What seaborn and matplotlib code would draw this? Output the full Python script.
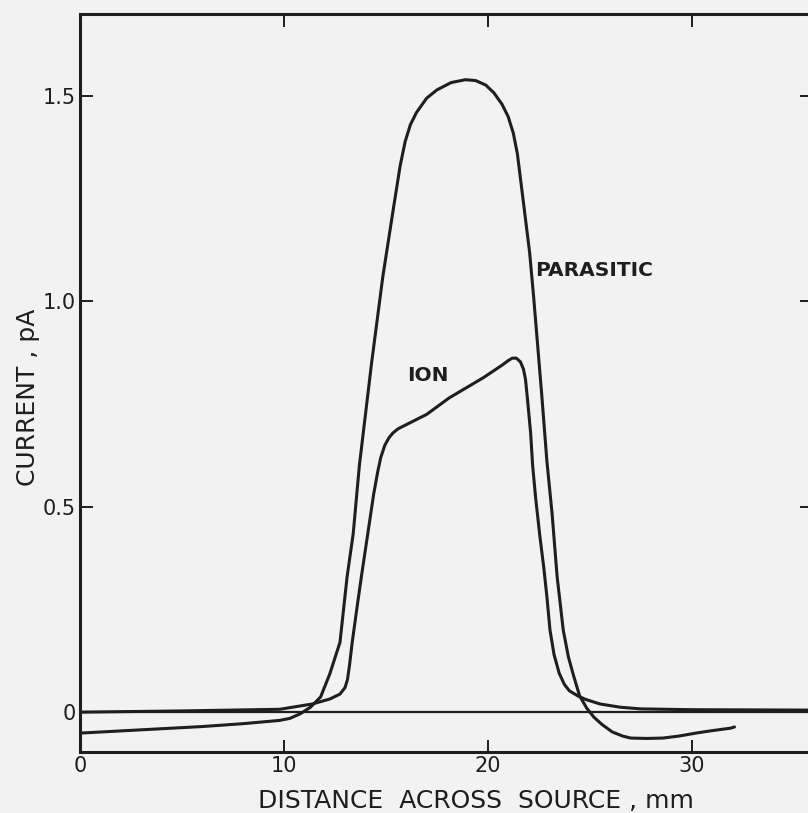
import matplotlib
matplotlib.use("Agg")
import matplotlib.pyplot as plt
import seaborn as sns
import pandas as pd

# ION curve (distance in mm, current in pA)
ion_x = [0, 5, 9.8, 11.4, 12.25, 12.75, 13.0, 13.12, 13.22, 13.35, 13.6, 13.8, 14.1, 14.4,
         14.6, 14.75, 14.95, 15.15, 15.35, 15.6, 16.0, 17.0, 18.1, 19.8, 20.7, 21.0, 21.2,
         21.4, 21.6, 21.75, 21.85, 21.95, 22.1, 22.2, 22.35, 22.55, 22.75, 22.9, 23.05,
         23.25, 23.5, 23.75, 24.0, 24.4, 24.8, 25.5, 26.5, 27.5, 30, 36]
ion_y = [0.0, 0.003, 0.007, 0.02, 0.032, 0.044, 0.06, 0.08, 0.115, 0.17, 0.26, 0.33, 0.43,
         0.53, 0.585, 0.62, 0.65, 0.668, 0.68, 0.69, 0.70, 0.725, 0.765, 0.815, 0.845, 0.856,
         0.862, 0.862, 0.853, 0.835, 0.81, 0.76, 0.68, 0.60, 0.52, 0.43, 0.35, 0.28, 0.2,
         0.14, 0.095, 0.068, 0.052, 0.04, 0.031, 0.02, 0.012, 0.008, 0.006, 0.005]

# PARASITIC curve
par_x = [0, 3, 6, 8, 9.8, 10.3, 10.8, 11.3, 11.8, 12.25, 12.75, 13.1, 13.4, 13.7, 14.3,
         14.85, 15.35, 15.7, 15.95, 16.2, 16.5, 17.0, 17.5, 18.2, 18.9, 19.4, 19.9, 20.3,
         20.7, 21.0, 21.25, 21.45, 21.7, 22.05, 22.25, 22.45, 22.65, 22.9, 23.15, 23.4, 23.7,
         23.95, 24.2, 24.5, 24.85, 25.2, 25.6, 26.1, 26.6, 27.0, 27.8, 28.6, 29.4, 30.2,
         31.0, 31.9, 32.1]
par_y = [-0.051, -0.043, -0.035, -0.028, -0.02, -0.015, -0.004, 0.012, 0.037, 0.093, 0.17,
         0.33, 0.435, 0.60, 0.85, 1.06, 1.22, 1.33, 1.39, 1.43, 1.46, 1.495, 1.515, 1.533, 1.54,
         1.538, 1.527, 1.508, 1.48, 1.45, 1.41, 1.36, 1.26, 1.12, 1.01, 0.89, 0.77, 0.61, 0.485,
         0.33, 0.2, 0.135, 0.09, 0.04, 0.01, -0.012, -0.03, -0.048, -0.058, -0.063, -0.064,
         -0.063, -0.058, -0.051, -0.045, -0.039, -0.036]

x_ticks = [0, 10, 20, 30]
x_labels = ["0", "10", "20", "30"]
y_ticks = [0, 0.5, 1.0, 1.5]
y_labels = ["0", "0.5", "1.0", "1.5"]

ion = pd.DataFrame({"x": ion_x, "y": ion_y})
par = pd.DataFrame({"x": par_x, "y": par_y})

sns.set_style("ticks")
plt.rcParams['font.family'] = ['DejaVu Sans']
bg = "#f2f2f2"
ink = "#1e1e1e"

fig = plt.figure(figsize=(8.08, 8.13), dpi=100, facecolor=bg)
ax = fig.add_axes([80 / 808, 61 / 813, 732 / 808, 738 / 813])
ax.set_facecolor(bg)

ax.axhline(0, color=ink, lw=1.6)
sns.lineplot(data=par, x="x", y="y", ax=ax, color=ink, lw=2.2, sort=False)
sns.lineplot(data=ion, x="x", y="y", ax=ax, color=ink, lw=2.2, sort=False)

ax.set_xlim(0, 35.9)
ax.set_ylim(-0.097, 1.70)

ax.set_xticks(x_ticks)
ax.set_xticklabels(x_labels)
ax.set_yticks(y_ticks)
ax.set_yticklabels(y_labels)
ax.tick_params(direction="in", length=9, width=1.4, color=ink, labelsize=15,
               labelcolor=ink, top=True, right=True, pad=3)
for s in ax.spines.values():
    s.set_linewidth(2.2)
    s.set_color(ink)

ax.set_xlabel("DISTANCE  ACROSS  SOURCE , mm", fontsize=18, color=ink)
ax.xaxis.set_label_coords(0.541, -0.05)
ax.set_ylabel("CURRENT , pA", fontsize=18, color=ink)
ax.yaxis.set_label_coords(-0.054, 0.48)

ax.text(22.3, 1.076, "PARASITIC", fontsize=14.5, fontweight="bold", color=ink,
        ha="left", va="center")
ax.text(17.05, 0.82, "ION", fontsize=14.5, fontweight="bold", color=ink,
        ha="center", va="center")

fig.savefig("out.png", dpi=100, facecolor=bg)
